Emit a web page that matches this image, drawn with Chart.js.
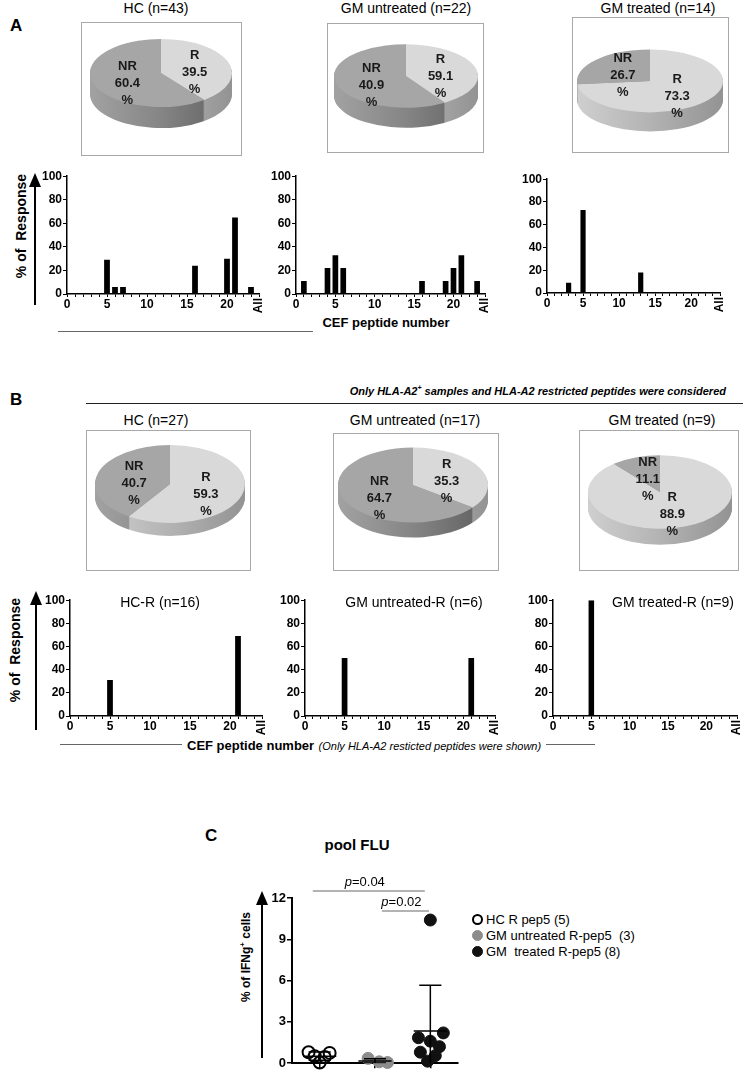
<!DOCTYPE html>
<html>
<head>
<meta charset="utf-8">
<script src="https://cdn.jsdelivr.net/npm/chart.js@4"></script>
<style>
  body { margin: 0; background: #fff; font-family: "Liberation Sans", Arial, sans-serif; color: #000; }
  #page { position: relative; width: 743px; height: 1074px; overflow: hidden; }
  .t { position: absolute; white-space: nowrap; transform: translateX(-50%); font-size: 14px; }
  .letter { position: absolute; font-weight: bold; font-size: 17px; }
  .box { position: absolute; border: 1px solid #a8a8a8; box-sizing: border-box; }
  .hl { position: absolute; height: 1px; background: #444; }
  .rot { position: absolute; white-space: nowrap; font-weight: bold; transform: translate(-50%, -50%) rotate(-90deg); }
  .shaft { position: absolute; width: 2px; background: #000; }
  .head { position: absolute; width: 0; height: 0; border-left: 6px solid transparent; border-right: 6px solid transparent; border-bottom: 14px solid #000; }
  .leg { position: absolute; left: 472px; font-size: 13px; white-space: nowrap; }
  .dot { display: inline-block; width: 11px; height: 11px; border-radius: 50%; box-sizing: border-box; vertical-align: -1px; margin-right: 3px; }
  canvas { position: absolute; }
</style>
</head>
<body>
<div id="page">
  <!-- panel A -->
  <div class="letter" style="left:10px;top:16px">A</div>
  <div class="t" style="left:156px;top:0px">HC (n=43)</div>
  <div class="t" style="left:406px;top:0px">GM untreated (n=22)</div>
  <div class="t" style="left:658px;top:0px">GM treated (n=14)</div>
  <div class="box" style="left:81px;top:22px;width:161px;height:134px"></div>
  <div class="box" style="left:327px;top:23px;width:157px;height:130px"></div>
  <div class="box" style="left:572px;top:17px;width:157px;height:136px"></div>

  <div class="rot" style="left:21px;top:226px;font-size:14px">%&nbsp;of&nbsp; Response</div>
  <div class="shaft" style="left:34px;top:186px;height:119px"></div>
  <div class="head" style="left:29px;top:173px"></div>
  <div class="t" style="left:386px;top:315px;font-weight:bold;font-size:13px">CEF peptide number</div>
  <div class="hl" style="left:58px;top:331px;width:255px;background:#666"></div>

  <!-- panel B -->
  <div class="letter" style="left:10px;top:390px">B</div>
  <div style="position:absolute;right:17px;top:384px;font-size:11px;font-weight:bold;font-style:italic;white-space:nowrap">Only HLA-A2<sup style="font-size:7px">+</sup> samples and HLA-A2 restricted peptides were considered</div>
  <div class="hl" style="left:86px;top:403px;width:657px;background:#222"></div>
  <div class="t" style="left:156px;top:412px">HC (n=27)</div>
  <div class="t" style="left:415px;top:412px">GM untreated (n=17)</div>
  <div class="t" style="left:662px;top:412px">GM treated (n=9)</div>
  <div class="box" style="left:86px;top:430px;width:165px;height:141px"></div>
  <div class="box" style="left:333px;top:433px;width:166px;height:138px"></div>
  <div class="box" style="left:579px;top:430px;width:160px;height:141px"></div>

  <div class="rot" style="left:15px;top:650px;font-size:14px">%&nbsp;of&nbsp; Response</div>
  <div class="shaft" style="left:35px;top:604px;height:126px"></div>
  <div class="head" style="left:30px;top:591px"></div>
  <div class="hl" style="left:60px;top:744px;width:535px;background:#666"></div>
  <div style="position:absolute;left:182px;top:736px;background:#fff;padding:0 5px;white-space:nowrap">
    <b style="font-size:13px">CEF peptide number</b> <i style="font-size:11px">(Only HLA-A2 resticted peptides were shown)</i>
  </div>

  <!-- panel C -->
  <div class="letter" style="left:205px;top:826px">C</div>
  <div class="t" style="left:357px;top:836px;font-weight:bold;font-size:15px">pool FLU</div>
  <div class="rot" style="left:245px;top:957px;font-size:12px">% of IFNg<sup style="font-size:8px">+</sup> cells</div>
  <div class="shaft" style="left:261px;top:905px;height:153px"></div>
  <div class="head" style="left:256px;top:891px"></div>
</div>

<script>
// ---- data ----
const peptides = [0, 1, 2, 3, 4, 5, 6, 7, 8, 9, 10, 11, 12, 13, 14, 15, 16, 17, 18, 19, 20, 21, 22, 23, 24];
const xTickAt = [0, 5, 10, 15, 20];
const allAt = 24;
const allLabel = 'All';

// panel A, % of response per CEF peptide
const hcA_pep = [5, 6, 7, 16, 20, 21, 23];
const hcA_val = [29, 6, 6, 24, 30, 65, 6];
const gmuA_pep = [1, 4, 5, 6, 16, 19, 20, 21, 23];
const gmuA_val = [11, 22, 33, 22, 11, 11, 22, 33, 11];
const gmtA_pep = [3, 5, 13];
const gmtA_val = [9, 73, 18];

// panel B, HLA-A2 restricted peptides only
const hcB_pep = [5, 21];
const hcB_val = [31, 69];
const gmuB_pep = [5, 21];
const gmuB_val = [50, 50];
const gmtB_pep = [5];
const gmtB_val = [100];
const barTitlesB = ['HC-R (n=16)', 'GM untreated-R (n=6)', 'GM treated-R (n=9)'];

// pies: responders / non responders (slice sizes as drawn)
const pieNames = ['R', 'NR'];
const pieA_HC = [39.5, 60.4];
const pieA_GMu = [40.9, 59.1];
const pieA_GMt = [73.3, 26.7];
const pieB_HC = [59.3, 40.7];
const pieB_GMu = [35.3, 64.7];
const pieB_GMt = [88.9, 11.1];
const pctA_GMu = ['59.1', '40.9']; // printed labels differ from drawn slice in the figure

// panel C, pool FLU
const groupNames = ['HC R pep5 (5)', 'GM untreated R-pep5\u00a0 (3)', 'GM\u00a0 treated R-pep5 (8)'];
const groupX = [1, 3, 5];
const hcC = [0.8, 0.5, 0.05, 0.45, 0.75];
const hcC_jit = [-0.4, -0.18, 0, 0.18, 0.36];
const gmuC = [0.35, 0.1, 0.05];
const gmuC_jit = [-0.25, 0.15, 0.45];
const gmtC = [10.4, 1.85, 2.2, 1.6, 1.2, 0.8, 0.55, 0.15];
const gmtC_jit = [0, -0.43, 0.47, 0, 0.33, -0.36, 0.18, -0.1];
const pLabels = ['0.04', '0.02'];
const pFrom = [0.75, 3.25];
const pTo = [4.8, 4.95];
const pAt = [12.5, 11.05];

// ---- helpers ----
const FONT = '"Liberation Sans", Arial, sans-serif';
const page = document.getElementById('page');

function place(left, top, w, h) {
    const c = document.createElement('canvas');
    c.width = w; c.height = h;
    c.style.left = left + 'px'; c.style.top = top + 'px';
    c.style.width = w + 'px'; c.style.height = h + 'px';
    page.appendChild(c);
    return c;
}

function toSeries(peps, vals) {
    return peptides.map(p => {
        const i = peps.indexOf(p);
        return i < 0 ? null : vals[i];
    });
}

const allTick = {
    id: 'allTick',
    afterDraw(chart) {
        const xs = chart.scales.x, ctx = chart.ctx;
        ctx.save();
        ctx.translate(xs.getPixelForValue(allAt), xs.top + 4);
        ctx.rotate(-Math.PI / 2);
        ctx.font = 'bold 12px ' + FONT;
        ctx.fillStyle = '#000';
        ctx.textAlign = 'right';
        ctx.textBaseline = 'middle';
        ctx.fillText(allLabel, 0, 0);
        ctx.restore();
    }
};

function barChart(area, peps, vals) {
    const yW = 30, xH = 22, padT = 8, padR = 8;
    const c = place(area.l - yW, area.t - padT, yW + area.r - area.l + padR, padT + area.b - area.t + xH);
    new Chart(c, {
        type: 'bar',
        data: {
            labels: peptides.map(String),
            datasets: [{
                data: toSeries(peps, vals),
                backgroundColor: '#000',
                categoryPercentage: 1,
                barPercentage: 0.72
            }]
        },
        options: {
            responsive: false,
            animation: false,
            events: [],
            layout: { padding: { top: padT, right: padR, left: 0, bottom: 0 } },
            plugins: { legend: { display: false }, tooltip: { enabled: false } },
            scales: {
                x: {
                    offset: false,
                    grid: { offset: false, drawOnChartArea: false, color: '#000', tickLength: 3 },
                    border: { color: '#000', width: 1.5 },
                    ticks: {
                        autoSkip: false, maxRotation: 0, minRotation: 0, padding: 0, color: '#000',
                        font: { family: FONT, size: 12, weight: 'bold' },
                        callback: (v, i) => xTickAt.includes(peptides[i]) ? String(peptides[i]) : ''
                    },
                    afterFit: s => { s.height = xH; }
                },
                y: {
                    min: 0, max: 100,
                    grid: { drawOnChartArea: false, color: '#000', tickLength: 4 },
                    border: { color: '#000', width: 1.5 },
                    ticks: { stepSize: 20, padding: 1, color: '#000', font: { family: FONT, size: 12, weight: 'bold' } },
                    afterFit: s => { s.width = yW; }
                }
            }
        },
        plugins: [allTick]
    });
}

// 3D looking pie: side wall drawn from the arc geometry, top squashed into an ellipse
const R_TOP = '#d9d9d9', NR_TOP = '#a6a6a6';
const sideStops = [['#cfcfcf', '#b3b3b3', '#939393'], ['#a2a2a2', '#858585', '#5f5f5f']];

const pie3d = {
    id: 'pie3d',
    beforeDatasetsDraw(chart, args, o) {
        const ctx = chart.ctx, arcs = chart.getDatasetMeta(0).data;
        const cx = arcs[0].x, cy = arcs[0].y, r = arcs[0].outerRadius;
        ctx.save();
        const grads = arcs.map((a, i) => {
            const g = ctx.createLinearGradient(-r, 0, r, 0);
            sideStops[i].forEach((col, j) => g.addColorStop(j / (sideStops[i].length - 1), col));
            return g;
        });
        for (let d = o.depth; d > 0; d--) {
            arcs.forEach((a, i) => {
                ctx.save();
                ctx.translate(cx, cy + d);
                ctx.scale(1, o.k);
                ctx.beginPath();
                ctx.moveTo(0, 0);
                ctx.arc(0, 0, r, a.startAngle, a.endAngle);
                ctx.closePath();
                ctx.fillStyle = grads[i];
                ctx.fill();
                ctx.restore();
            });
        }
        ctx.translate(cx, cy);
        ctx.scale(1, o.k);
        ctx.translate(-cx, -cy);
    },
    afterDatasetsDraw(chart, args, o) {
        const ctx = chart.ctx, arcs = chart.getDatasetMeta(0).data;
        ctx.restore();
        const cx = arcs[0].x, cy = arcs[0].y, r = arcs[0].outerRadius;
        ctx.save();
        ctx.font = 'bold 13px ' + FONT;
        ctx.fillStyle = '#1a1a1a';
        ctx.textAlign = 'center';
        ctx.textBaseline = 'middle';
        arcs.forEach((a, i) => {
            const mid = (a.startAngle + a.endAngle) / 2;
            const x = cx + Math.cos(mid) * r * 0.5;
            const y = cy + Math.sin(mid) * r * 0.5 * o.k + 5;
            [pieNames[i], o.texts[i], '%'].forEach((t, j) => ctx.fillText(t, x, y + (j - 1) * 17));
        });
        ctx.restore();
    }
};

function pieChart(spec, values, texts) {
    const side = spec.rx * 2;
    const c = place(spec.cx - spec.rx, spec.cy - spec.rx, side, side);
    new Chart(c, {
        type: 'pie',
        data: {
            labels: pieNames,
            datasets: [{ data: values, backgroundColor: [R_TOP, NR_TOP], borderWidth: 0 }]
        },
        options: {
            responsive: false,
            animation: false,
            events: [],
            layout: { padding: 0 },
            plugins: {
                legend: { display: false },
                tooltip: { enabled: false },
                pie3d: { k: spec.k, depth: spec.depth, texts: texts || values.map(v => v.toFixed(1)) }
            }
        },
        plugins: [pie3d]
    });
}

// ---- panel A ----
pieChart({ cx: 161, cy: 73, rx: 71, k: 0.48, depth: 21 }, pieA_HC);
pieChart({ cx: 406, cy: 76, rx: 72, k: 0.44, depth: 20 }, pieA_GMu, pctA_GMu);
pieChart({ cx: 650, cy: 81, rx: 73, k: 0.43, depth: 19 }, pieA_GMt);

barChart({ l: 67, t: 176, r: 259, b: 294 }, hcA_pep, hcA_val);
barChart({ l: 296, t: 176, r: 485, b: 294 }, gmuA_pep, gmuA_val);
barChart({ l: 547, t: 179, r: 720, b: 293 }, gmtA_pep, gmtA_val);

// ---- panel B ----
pieChart({ cx: 170, cy: 484, rx: 75, k: 0.52, depth: 13 }, pieB_HC);
pieChart({ cx: 413, cy: 485, rx: 75, k: 0.5, depth: 15 }, pieB_GMu);
pieChart({ cx: 660, cy: 492, rx: 72, k: 0.51, depth: 16 }, pieB_GMt);

const areasB = [{ l: 70, t: 600, r: 262, b: 716 }, { l: 305, t: 600, r: 495, b: 716 }, { l: 553, t: 600, r: 737, b: 716 }];
barChart(areasB[0], hcB_pep, hcB_val);
barChart(areasB[1], gmuB_pep, gmuB_val);
barChart(areasB[2], gmtB_pep, gmtB_val);
const titleXB = [160, 414, 673];
barTitlesB.forEach((txt, i) => {
    const d = document.createElement('div');
    d.className = 't';
    d.style.left = titleXB[i] + 'px';
    d.style.top = '594px';
    d.textContent = txt;
    page.appendChild(d);
});

// ---- panel C ----
function mean(a) { return a.reduce((s, v) => s + v, 0) / a.length; }
function sd(a) { const m = mean(a); return Math.sqrt(a.reduce((s, v) => s + (v - m) * (v - m), 0) / (a.length - 1)); }

const groupsC = [hcC, gmuC, gmtC];
const jitC = [hcC_jit, gmuC_jit, gmtC_jit];
const fillC = ['rgba(0,0,0,0)', '#8c8c8c', '#111'];
const edgeC = ['#000', '#8c8c8c', '#111'];

const summaryLines = [];
groupsC.forEach((vals, g) => {
    const m = mean(vals), s = sd(vals), x = groupX[g];
    summaryLines.push({ data: [{ x: x - 0.6, y: m }, { x: x + 0.6, y: m }] });
    summaryLines.push({ data: [{ x: x, y: m - s }, { x: x, y: m + s }] });
    summaryLines.push({ data: [{ x: x - 0.4, y: m + s }, { x: x + 0.4, y: m + s }] });
    summaryLines.push({ data: [{ x: x - 0.4, y: m - s }, { x: x + 0.4, y: m - s }] });
});

const pointSets = groupsC.map((vals, g) => ({
    type: 'scatter',
    data: vals.map((v, i) => ({ x: groupX[g] + jitC[g][i], y: v })),
    pointRadius: 6,
    pointBackgroundColor: fillC[g],
    pointBorderColor: edgeC[g],
    pointBorderWidth: g === 0 ? 2 : 1,
    clip: false
}));

const sigBars = {
    id: 'sigBars',
    afterDraw(chart) {
        const ctx = chart.ctx, xs = chart.scales.x, ys = chart.scales.y;
        ctx.save();
        pLabels.forEach((p, i) => {
            const x1 = xs.getPixelForValue(pFrom[i]), x2 = xs.getPixelForValue(pTo[i]);
            const y = ys.getPixelForValue(pAt[i]);
            ctx.strokeStyle = '#9a9a9a';
            ctx.lineWidth = 1.5;
            ctx.beginPath();
            ctx.moveTo(x1, y);
            ctx.lineTo(x2, y);
            ctx.stroke();
            ctx.font = 'italic 13px ' + FONT;
            const wp = ctx.measureText('p').width;
            ctx.font = '13px ' + FONT;
            const wr = ctx.measureText('=' + p).width;
            let x = (x1 + x2) / 2 - (wp + wr) / 2 - 4;
            ctx.fillStyle = '#000';
            ctx.textBaseline = 'bottom';
            ctx.textAlign = 'left';
            ctx.font = 'italic 13px ' + FONT;
            ctx.fillText('p', x, y - 2);
            ctx.font = '13px ' + FONT;
            ctx.fillText('=' + p, x + wp, y - 2);
        });
        ctx.restore();
    }
};

(function () {
    const area = { l: 292, t: 898, r: 458, b: 1065 };
    const yW = 30, xH = 7, padT = 32, padR = 8;
    const c = place(area.l - yW, area.t - padT, yW + area.r - area.l + padR, padT + area.b - area.t + xH);
    new Chart(c, {
        type: 'line',
        data: {
            datasets: summaryLines.map(s => ({
                data: s.data, borderColor: '#000', borderWidth: 1.5, pointRadius: 0, fill: false
            })).concat(pointSets)
        },
        options: {
            responsive: false,
            animation: false,
            events: [],
            layout: { padding: { top: padT, right: padR, left: 0, bottom: 0 } },
            plugins: { legend: { display: false }, tooltip: { enabled: false } },
            scales: {
                x: {
                    type: 'linear', min: 0, max: 6,
                    afterBuildTicks: s => { s.ticks = groupX.map(v => ({ value: v })); },
                    grid: { drawOnChartArea: false, color: '#000', tickLength: 5, lineWidth: 1.5 },
                    border: { color: '#000', width: 2 },
                    ticks: { display: false },
                    afterFit: s => { s.height = xH; }
                },
                y: {
                    min: 0, max: 12,
                    grid: { drawOnChartArea: false, color: '#000', tickLength: 5, lineWidth: 1.5 },
                    border: { color: '#000', width: 2 },
                    ticks: { stepSize: 3, padding: 1, color: '#000', font: { family: FONT, size: 13, weight: 'bold' } },
                    afterFit: s => { s.width = yW; }
                }
            }
        },
        plugins: [sigBars]
    });
})();

// legend for panel C
const legendTops = [912, 928, 944];
groupNames.forEach((name, g) => {
    const d = document.createElement('div');
    d.className = 'leg';
    d.style.top = legendTops[g] + 'px';
    const dot = document.createElement('span');
    dot.className = 'dot';
    dot.style.background = g === 0 ? '#fff' : fillC[g];
    dot.style.border = (g === 0 ? '2px' : '1px') + ' solid ' + edgeC[g];
    d.appendChild(dot);
    d.appendChild(document.createTextNode(name));
    page.appendChild(d);
});
</script>
</body>
</html>
